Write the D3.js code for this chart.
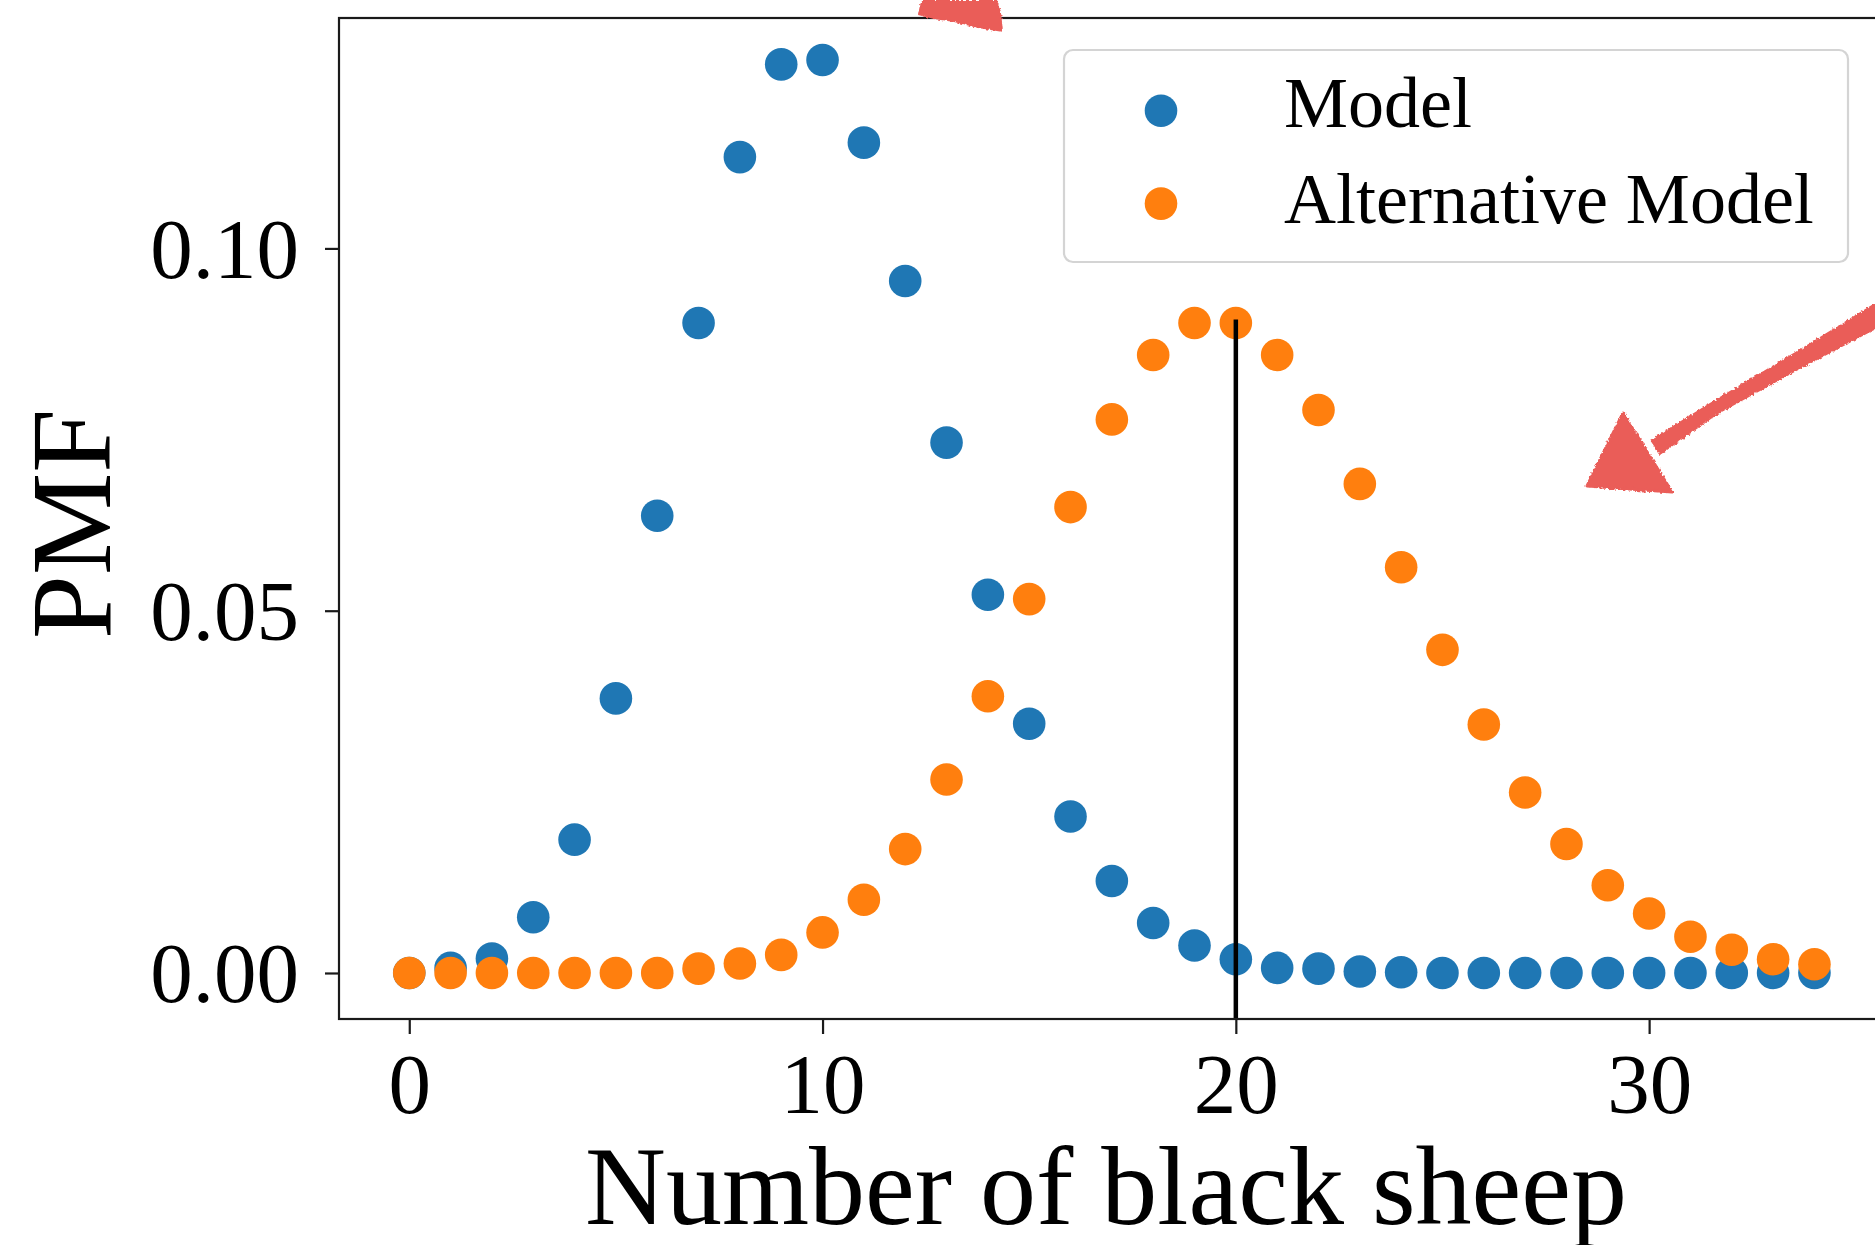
<!DOCTYPE html>
<html>
<head>
<meta charset="utf-8">
<script src="https://cdn.jsdelivr.net/npm/d3@7"></script>
<style>
  html, body { margin: 0; padding: 0; background: #ffffff; }
  svg { display: block; }
  text { font-family: "Liberation Serif", "DejaVu Serif", serif; fill: #000; }
</style>
</head>
<body>
<svg id="chart" width="1875" height="1245"></svg>
<script>
// ---- data ----
const blackSheep = d3.range(0, 35); // 0..34
const modelPMF = [0.0000, 0.0007, 0.0020, 0.0077, 0.0184, 0.0379, 0.0631, 0.0897, 0.1126, 0.1254,
                  0.1260, 0.1146, 0.0955, 0.0732, 0.0522, 0.0344, 0.0216, 0.0127, 0.0069, 0.0038,
                  0.0019, 0.0007, 0.0006, 0.0002, 0.0001, 0.0000, 0.0000, 0.0000, 0.0000, 0.0000,
                  0.0000, 0.0000, 0.0000, 0.0000, 0.0000];
const altPMF   = [0.0000, 0.0000, 0.0000, 0.0000, 0.0000, 0.0000, 0.0000, 0.0006, 0.0013, 0.0025,
                  0.0056, 0.0101, 0.0171, 0.0267, 0.0382, 0.0516, 0.0643, 0.0764, 0.0853, 0.0897,
                  0.0897, 0.0853, 0.0777, 0.0675, 0.0560, 0.0446, 0.0343, 0.0249, 0.0178, 0.0121,
                  0.0082, 0.0050, 0.0032, 0.0019, 0.0012];
const observed = 20;
const xTicks = [0, 10, 20, 30];
const yTicks = [0.00, 0.05, 0.10];
const seriesNames = ["Model", "Alternative Model"];
const seriesColors = ["#1f77b4", "#ff7f0e"];
const xLabel = "Number of black sheep";
const yLabel = "PMF";

// ---- layout ----
const svg = d3.select("#chart");
const L = 339, T = 18, B = 1019;
const x = d3.scaleLinear().domain([-1.7, 35.7]).range([L, 1884.7]);
const y = d3.scaleLinear().domain([-0.00635, 0.1318]).range([B, T]);
const R = x.range()[1];

svg.append("rect").attr("width", 1875).attr("height", 1245).attr("fill", "#fff");

// points
const series = [modelPMF, altPMF];
series.forEach((vals, si) => {
  svg.append("g").selectAll("circle")
    .data(blackSheep.map((k, i) => ({ k, v: vals[i] })))
    .join("circle")
    .attr("cx", d => x(d.k))
    .attr("cy", d => y(d.v))
    .attr("r", 16.3)
    .attr("fill", seriesColors[si]);
});

// observed vertical line
svg.append("line")
  .attr("x1", x(observed)).attr("x2", x(observed))
  .attr("y1", y(y.domain()[0])).attr("y2", y(altPMF[observed] + 0.0005))
  .attr("stroke", "#000").attr("stroke-width", 4.5);

// spines
svg.append("rect")
  .attr("x", L).attr("y", T).attr("width", R - L).attr("height", B - T)
  .attr("fill", "none").attr("stroke", "#1a1a1a").attr("stroke-width", 2.2);

// axes
const yAxis = d3.axisLeft(y).tickValues(yTicks).tickFormat(d3.format(".2f")).tickSize(14);
const gy = svg.append("g").attr("transform", `translate(${L},0)`).call(yAxis);
gy.select(".domain").remove();
gy.selectAll(".tick line").attr("stroke", "#1a1a1a").attr("stroke-width", 2.2);
gy.selectAll(".tick text")
  .attr("x", -40).attr("dy", "0.34em")
  .style("font-family", '"Liberation Serif", serif').style("font-size", "85px").attr("fill", "#000");

const xAxis = d3.axisBottom(x).tickValues(xTicks).tickFormat(d3.format("d")).tickSize(15);
const gx = svg.append("g").attr("transform", `translate(0,${B})`).call(xAxis);
gx.select(".domain").remove();
gx.selectAll(".tick line").attr("stroke", "#1a1a1a").attr("stroke-width", 2.2);
gx.selectAll(".tick text")
  .attr("y", 94).attr("dy", 0)
  .style("font-family", '"Liberation Serif", serif').style("font-size", "85px").attr("fill", "#000");

// axis labels
svg.append("text")
  .attr("x", 1106).attr("y", 1224)
  .attr("text-anchor", "middle")
  .style("font-size", "112px")
  .text(xLabel);

svg.append("text")
  .attr("transform", "translate(110,524) rotate(-90)")
  .attr("text-anchor", "middle")
  .style("font-size", "115px")
  .text(yLabel);

// legend
const lg = svg.append("g");
lg.append("rect")
  .attr("x", 1064).attr("y", 50).attr("width", 784).attr("height", 212)
  .attr("rx", 9).attr("ry", 9)
  .attr("fill", "#fff").attr("fill-opacity", 0.85)
  .attr("stroke", "#d4d4d4").attr("stroke-width", 2.2);
const legendRows = [{ cy: 110.7, base: 126.5 }, { cy: 203.6, base: 223.4 }];
seriesNames.forEach((name, i) => {
  lg.append("circle").attr("cx", 1161).attr("cy", legendRows[i].cy).attr("r", 16.3).attr("fill", seriesColors[i]);
  lg.append("text").attr("x", 1284).attr("y", legendRows[i].base)
    .style("font-size", "72px").text(name);
});

// hand-drawn red annotations
const defs = svg.append("defs");
const f = defs.append("filter").attr("id", "rough").attr("x", "-10%").attr("y", "-10%").attr("width", "120%").attr("height", "120%");
f.append("feTurbulence").attr("type", "fractalNoise").attr("baseFrequency", 0.35).attr("numOctaves", 2).attr("seed", 3).attr("result", "noise");
f.append("feDisplacementMap").attr("in", "SourceGraphic").attr("in2", "noise").attr("scale", 4).attr("xChannelSelector", "R").attr("yChannelSelector", "G");

const red = "#ea5d59";
const ann = svg.append("g").attr("filter", "url(#rough)");
// arrow shaft (upper-right, off-canvas start)
ann.append("path")
  .attr("d", "M1880,300 L1802,348 L1718,398 L1650,440 L1660,455 L1718,414 L1802,368 L1880,327 Z")
  .attr("fill", red);
// arrow head
ann.append("path")
  .attr("d", "M1623,413 L1587,486 L1672,492 Z")
  .attr("fill", red).attr("stroke", red).attr("stroke-width", 3).attr("stroke-linejoin", "round");
// top fragment
ann.append("path")
  .attr("d", "M922,0 L997,0 L1001,12 L1003,32 L978,28 L954,22 L934,19 L918,15 L920,5 Z")
  .attr("fill", red);
</script>
</body>
</html>
